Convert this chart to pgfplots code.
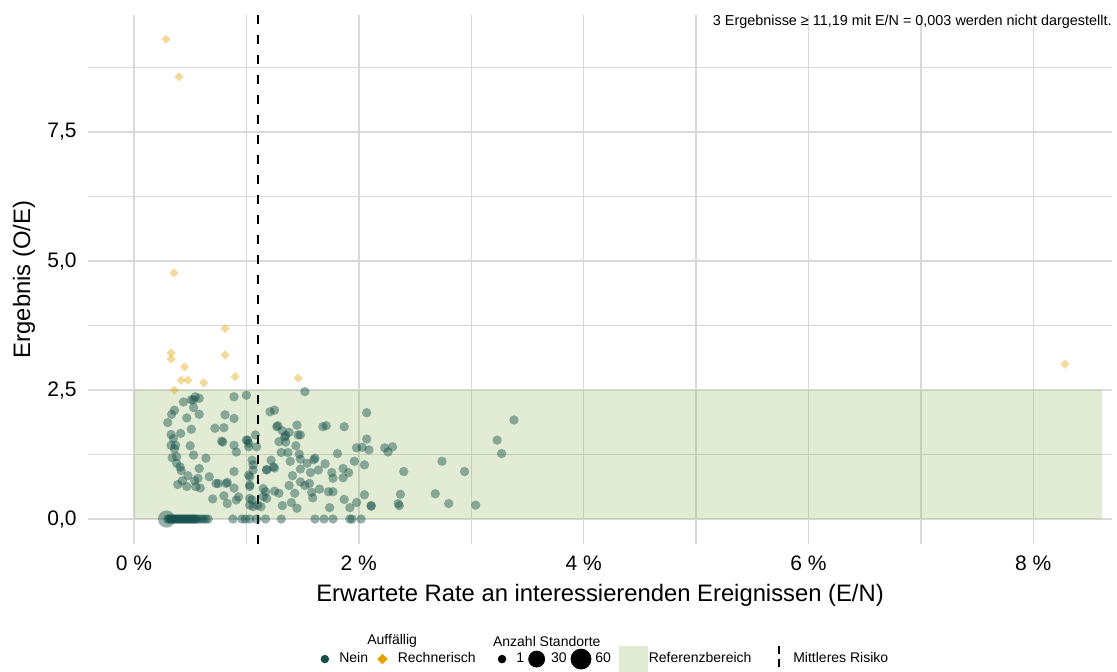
\documentclass[border=0pt]{standalone}
\usepackage{fontspec}
\setmainfont{Liberation Sans}
\usepackage{pgfplots}
\pgfplotsset{compat=1.18}
\definecolor{nein}{RGB}{22,80,75}
\definecolor{rech}{RGB}{230,160,0}
\definecolor{refgreen}{RGB}{139,179,83}
\definecolor{gridgray}{RGB}{217,217,217}

\begin{document}
\begin{tikzpicture}
\path[use as bounding box] (0,0) rectangle (558.5pt,335.5pt);
\begin{axis}[
    at={(44pt,63.5pt)}, anchor=south west,
    scale only axis, width=512pt, height=264.5pt,
    xmin=-0.409, xmax=8.70, ymin=-0.484, ymax=9.77,
    clip=false,
    axis line style={draw=none}, tick style={draw=none},
    xtick={0,2,4,6,8}, xticklabels={0 \%,2 \%,4 \%,6 \%,8 \%},
    minor xtick={1,3,5,7},
    ytick={0,2.5,5,7.5}, yticklabels={{0,0},{2,5},{5,0},{7,5}},
    minor ytick={1.25,3.75,6.25,8.75},
    grid=both,
    major grid style={gridgray, line width=0.75pt},
    minor grid style={gridgray, line width=0.6pt},
    ticklabel style={font=\fontsize{10.5}{12}\selectfont},
    xticklabel style={anchor=center, yshift=-9.5pt},
    yticklabel style={anchor=east, inner sep=0pt, xshift=-5.5pt},
    xlabel={Erwartete Rate an interessierenden Ereignissen (E/N)},
    ylabel={Ergebnis (O/E)},
    xlabel style={at={(axis description cs:0.5,-0.0964)}, anchor=center, font=\fontsize{11.9}{14}\selectfont},
    ylabel style={at={(axis description cs:-0.0625,0.5)}, anchor=center, font=\fontsize{11.9}{14}\selectfont},
    legend columns=-1,
    legend cell align=left,
    legend style={at={(axis description cs:0.2227,-0.2175)}, anchor=west,
        draw=none, fill=none, inner sep=0pt, column sep=0pt,
        font=\fontsize{7}{8.4}\selectfont,
        nodes={inner sep=0pt, anchor=west}},
]
% Referenzbereich
\addplot[draw=none, fill=refgreen, fill opacity=0.25, forget plot]
    coordinates {(0,0) (8.61,0) (8.61,2.5) (0,2.5)} -- cycle;

% Auffaellig: Nein
\addplot[only marks, mark=*, mark size=2.35pt, forget plot,
    mark options={draw opacity=0, fill=nein, fill opacity=0.45}] coordinates {
(0.545,2.37) (0.53,2.31) (0.58,2.34) (0.44,2.27) (0.51,2.31) (0.53,2.16)
(0.36,2.11) (0.335,2.03) (0.58,2.03) (0.47,1.96) (0.30,1.87) (0.51,1.74)
(0.89,2.37) (1.00,2.40) (0.81,2.02) (0.89,1.95) (0.72,1.76) (0.80,1.77)
(0.33,1.64) (0.415,1.66) (0.35,1.56) (0.33,1.43) (0.37,1.43) (0.36,1.36)
(0.50,1.42) (0.79,1.49) (0.78,1.51) (0.89,1.43) (0.91,1.30) (1.01,1.53)
(1.02,1.40) (0.53,1.24) (0.34,1.19) (0.38,1.21) (0.64,1.18) (0.38,1.08)
(0.41,1.01) (0.58,0.98) (0.42,0.94) (0.48,0.84) (0.67,0.82) (0.57,0.79)
(0.43,0.74) (0.54,0.74) (0.39,0.67) (0.47,0.63) (0.55,0.63) (0.59,0.60)
(0.73,0.69) (0.75,0.69) (0.82,0.69) (0.83,0.71) (0.89,0.60) (0.70,0.39)
(0.80,0.45) (0.83,0.30) (0.89,0.92) (0.91,0.37) (0.93,0.43) (1.02,0.85)
(1.03,0.66) (1.03,0.40) (1.03,0.27) (0.88,0) (0.96,0) (0.99,0) (1.03,0)
(1.52,2.47) (1.21,2.08) (1.25,2.11) (2.07,2.06) (1.28,1.81) (1.45,1.82)
(1.32,1.71) (1.38,1.68) (1.34,1.59) (1.35,1.62) (1.46,1.63) (1.48,1.63)
(1.68,1.79) (1.71,1.81) (1.87,1.79) (1.29,1.50) (1.35,1.49) (1.44,1.42)
(2.07,1.55) (1.98,1.38) (2.03,1.39) (2.09,1.34) (1.31,1.29) (1.37,1.29)
(1.47,1.26) (1.81,1.27) (1.61,1.18) (1.60,1.15) (1.48,1.16) (1.54,1.08)
(1.70,1.07) (1.96,1.12) (2.05,1.05) (1.24,1.01) (1.25,0.99) (1.18,0.95)
(1.39,1.12) (1.48,0.97) (1.57,0.90) (1.64,0.95) (1.76,0.90) (1.86,0.98)
(1.91,0.90) (1.41,0.84) (1.77,0.79) (1.86,0.80) (1.38,0.65) (1.48,0.72)
(1.52,0.65) (1.56,0.69) (1.65,0.58) (1.73,0.53) (1.77,0.53) (1.25,0.54)
(1.29,0.50) (1.17,0.53) (1.15,0.43) (1.43,0.50) (1.58,0.52) (1.59,0.41)
(2.05,0.47) (1.87,0.38) (1.98,0.32) (1.40,0.32) (1.32,0.26) (1.45,0.21)
(1.74,0.22) (1.92,0.22) (2.11,0.26) (1.10,0.27) (1.18,0.40)
(1.09,0) (1.17,0) (1.31,0) (1.61,0) (1.69,0) (1.77,0) (1.92,0) (1.94,0) (2.02,0)
(1.08,1.63) (1.00,1.53) (1.02,1.47) (1.09,1.40) (1.05,1.14) (1.06,1.05)
(1.03,0.82) (1.06,0.95) (1.03,0.63) (1.05,0.37) (1.06,0.24) (1.15,0.59)
(1.13,0.24) (1.18,0.96) (1.22,1.14) (1.27,1.79)
(3.38,1.92) (3.23,1.53) (3.27,1.27) (2.23,1.38) (2.26,1.30) (2.30,1.40)
(2.74,1.12) (2.94,0.92) (2.40,0.92) (2.37,0.48) (2.68,0.49) (2.35,0.30)
(2.36,0.26) (2.80,0.30) (3.04,0.27) (2.11,0.25)
(0.30,0) (0.31,0) (0.32,0) (0.33,0) (0.34,0) (0.35,0) (0.36,0) (0.37,0)
(0.38,0) (0.39,0) (0.40,0) (0.41,0) (0.42,0) (0.43,0) (0.44,0) (0.45,0)
(0.46,0) (0.47,0) (0.48,0) (0.49,0) (0.50,0) (0.51,0) (0.52,0) (0.53,0)
(0.54,0) (0.55,0) (0.56,0) (0.58,0) (0.60,0) (0.62,0) (0.64,0) (0.66,0)
};
% site with many locations
\addplot[only marks, mark=*, mark size=4.3pt, forget plot,
    mark options={draw opacity=0, fill=nein, fill opacity=0.45}] coordinates {(0.29,0)};

% Auffaellig: Rechnerisch
\addplot[only marks, mark=square*, mark size=1.6pt, forget plot,
    mark options={draw opacity=0, fill=rech, fill opacity=0.4, rotate=45}] coordinates {
(0.285,9.30) (0.40,8.57) (0.356,4.77) (0.81,3.69) (0.33,3.22) (0.33,3.10)
(0.81,3.18) (0.45,2.95) (0.42,2.69) (0.48,2.69) (0.62,2.64) (0.90,2.76)
(1.46,2.73) (0.36,2.50) (8.28,3.00)
};

% Mittleres Risiko
\addplot[black, line width=1pt, dash pattern=on 4.5pt off 5.5pt, forget plot]
    coordinates {(1.10,-0.484) (1.10,9.77)};

% legend
\addlegendimage{legend image code/.code={\path (-4pt,0) (7pt,0); \fill[nein] (0,0) circle (1.9pt);}}
\addlegendentry{Nein}
\addlegendimage{legend image code/.code={\path (-7pt,0) (7.5pt,0); \fill[rech] (0,2.3pt) -- (2.3pt,0) -- (0,-2.3pt) -- (-2.3pt,0) -- cycle;}}
\addlegendentry{Rechnerisch}
\addlegendimage{legend image code/.code={\path (-13pt,0) (7pt,0); \fill[black] (0,0) circle (1.9pt);}}
\addlegendentry{1}
\addlegendimage{legend image code/.code={\path (-6pt,0) (7pt,0); \fill[black] (0,0) circle (4pt);}}
\addlegendentry{30}
\addlegendimage{legend image code/.code={\path (-7pt,0) (7pt,0); \fill[black] (0,0) circle (5pt);}}
\addlegendentry{60}
\addlegendimage{legend image code/.code={\path (-11pt,0) (7.5pt,0); \fill[refgreen!25] (-7pt,-6.5pt) rectangle (7pt,6.5pt);}}
\addlegendentry{Referenzbereich}
\addlegendimage{legend image code/.code={\path (-13.5pt,0) (7pt,0); \draw[black, line width=1pt, dash pattern=on 4pt off 2.5pt] (0,6.3pt) -- (0,-6.3pt);}}
\addlegendentry{Mittleres Risiko}

\node[font=\fontsize{7}{8.4}\selectfont, anchor=center] at (axis description cs:0.297,-0.184) {Auffällig};
\node[font=\fontsize{7}{8.4}\selectfont, anchor=center] at (axis description cs:0.448,-0.184) {Anzahl Standorte};
\node[font=\fontsize{7.2}{8.6}\selectfont, anchor=east, inner sep=0pt] at (axis description cs:1,0.987)
    {3 Ergebnisse ≥ 11,19 mit E/N = 0,003 werden nicht dargestellt.};
\end{axis}
\end{tikzpicture}
\end{document}
